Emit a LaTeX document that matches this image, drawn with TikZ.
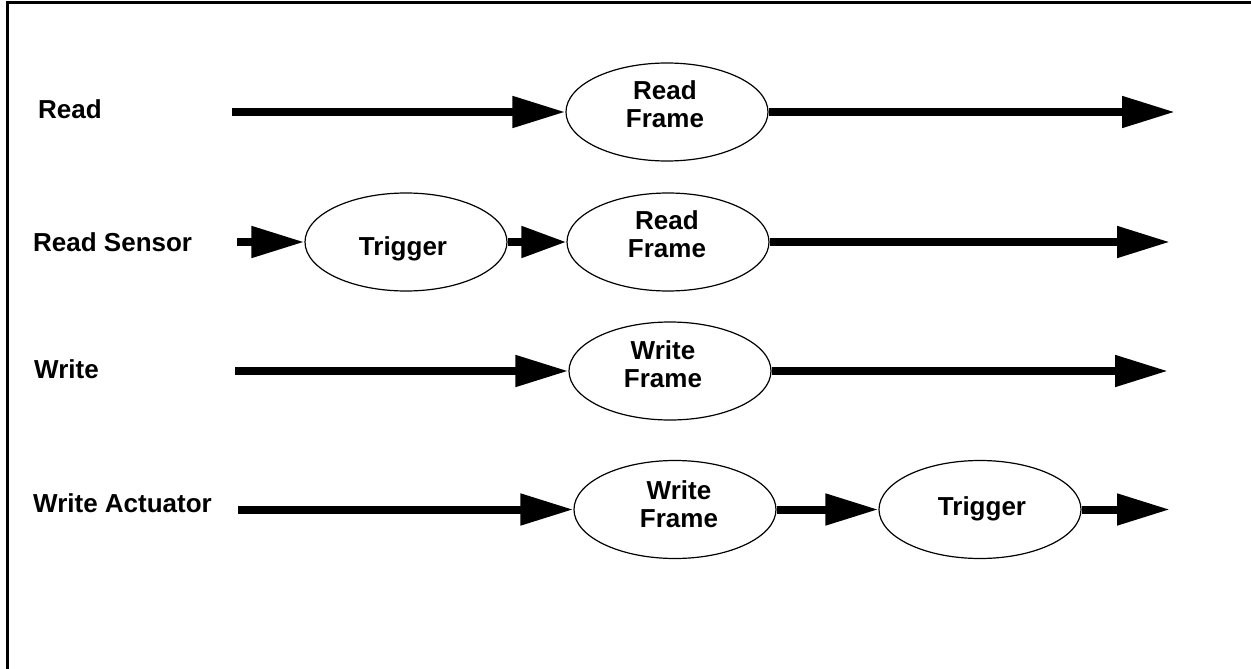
\documentclass[tikz,border=0pt]{standalone}
\usepackage{fontspec}
\setmainfont{Liberation Sans}
\usetikzlibrary{arrows.meta,shapes.geometric}
\begin{document}
\begin{tikzpicture}[x=1pt,y=-1pt,
  oval/.style={ellipse,draw,line width=1.2pt,minimum width=202pt,minimum height=98pt,inner sep=0pt},
  lbl/.style={font=\fontsize{26}{28.5}\selectfont\bfseries,inner sep=0pt},
  otext/.style={lbl,align=center,anchor=south},
  arr/.style={line width=8pt,-{Triangle[length=53pt,width=30pt]}},
  sarr/.style={line width=8pt,-{Triangle[length=45pt,width=30pt]}},
  framing/.style={line width=3pt}
]
\useasboundingbox (0,0) rectangle (1251,669);
% frame
\coordinate (fb) at (7.8,669);
\coordinate (fc) at (7.8,2.8);
\coordinate (fr) at (1251,2.8);
\draw[framing] (fb) -- (fc) -- (fr);

% row 1: Read
\node[lbl,anchor=base west] (l1) at (38,118) {Read};
\coordinate (s1) at (232,112);
\node[oval] (rf1) at (667,112) {};
\node[otext] (rf1t) at (665,128) {Read\\Frame};
\coordinate (e1) at (1175,112);
\draw[arr] (s1) -- (rf1.west);
\draw[arr] (rf1.east) -- (e1);

% row 2: Read Sensor
\node[lbl,anchor=base west] (l2) at (33,251) {Read Sensor};
\coordinate (s2) at (237,242);
\node[oval] (tr1) at (406,242) {};
\node[lbl,anchor=base] (tr1t) at (403,255) {Trigger};
\node[oval] (rf2) at (668,242) {};
\node[otext] (rf2t) at (667,258) {Read\\Frame};
\coordinate (e2) at (1170,242);
\draw[arr] (s2) -- (tr1.west);
\draw[sarr] (tr1.east) -- (rf2.west);
\draw[arr] (rf2.east) -- (e2);

% row 3: Write
\node[lbl,anchor=base west] (l3) at (34,378) {Write};
\coordinate (s3) at (235,371);
\node[oval] (wf3) at (670,371) {};
\node[otext] (wf3t) at (663,388) {Write\\Frame};
\coordinate (e3) at (1168,371);
\draw[arr] (s3) -- (wf3.west);
\draw[arr] (wf3.east) -- (e3);

% row 4: Write Actuator
\node[lbl,anchor=base west] (l4) at (33,512) {Write Actuator};
\coordinate (s4) at (238,509.5);
\node[oval] (wf4) at (675,509.5) {};
\node[otext] (wf4t) at (679,528) {Write\\Frame};
\node[oval] (tr2) at (980,509.5) {};
\node[lbl,anchor=base] (tr2t) at (982,515) {Trigger};
\coordinate (e4) at (1170,509.5);
\draw[arr] (s4) -- (wf4.west);
\draw[arr] (wf4.east) -- (tr2.west);
\draw[arr] (tr2.east) -- (e4);
\end{tikzpicture}
\end{document}
